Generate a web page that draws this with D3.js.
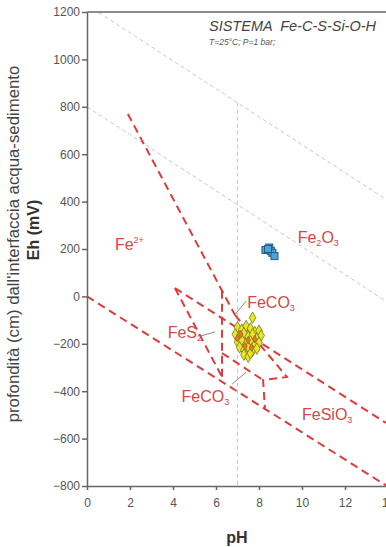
<!DOCTYPE html>
<meta charset="utf-8" />
<style>
  body { margin: 0; background: #fff; }
  text { font-family: Arial, "Liberation Sans", sans-serif; }
  .axis path, .axis line { stroke: #666; stroke-width: 1.5px; }
  .axis text { fill: #555; font-size: 12px; }
  .water { fill: none; stroke: #c9c9c9; stroke-width: 1px; stroke-dasharray: 4 3; }
  .bound { fill: none; stroke: #dc3c3c; stroke-width: 2px; stroke-dasharray: 8 5; }
  .leader { stroke: #8a8a8a; stroke-width: 1px; }
  .field { fill: #d24848; font-size: 16px; }
</style>
<body>
  <script src="https://d3js.org/d3.v7.min.js"></script>
  <script>
    // tick labels
    var xTicks = [0, 2, 4, 6, 8, 10, 12, 14];
    var yTicks = [-800, -600, -400, -200, 0, 200, 400, 600, 800, 1000, 1200];

    // grey water stability lines [pH, Eh]
    var waterUpper = [[0, 1230], [14, 404]];
    var waterLower = [[0, 800], [14, -26]];
    var neutral = [[7, 817], [7, -800]];

    // red dashed phase boundaries [pH, Eh]
    var fe2Fe2o3 = [[1.9, 770], [6.88, -78]];
    var h2Line = [[0, 0], [13.95, -800]];
    var upperParallel = [[4.09, 35], [13.9, -534]];
    var pyriteLeft = [[4.09, 35], [6.28, -340]];
    var vertical = [[6.28, 24], [6.28, -340]];
    var lowerParallel = [[6.28, -239], [8.19, -353]];
    var sideriteEdge = [[6.88, -78], [9.3, -340], [8.19, -353], [8.28, -479]];

    // measured samples [pH, Eh]
    var blueSamples = [[8.3, 196], [8.48, 206], [8.55, 192], [8.62, 184], [8.72, 170], [8.42, 200]];
    var yellowSamples = [
      [7.7, -90], [7.0, -130], [7.2, -140], [7.4, -125], [7.6, -135], [7.8, -150], [8.0, -145],
      [6.9, -160], [7.1, -168], [7.3, -155], [7.5, -170], [7.7, -160], [7.9, -178], [8.1, -165],
      [7.0, -192], [7.2, -185], [7.4, -200], [7.6, -190], [7.8, -205], [8.0, -195],
      [7.1, -215], [7.3, -226], [7.5, -214], [7.7, -230], [7.9, -220],
      [7.3, -246], [7.5, -255], [7.6, -240]
    ];
    var orangeSamples = [[7.15, -160], [7.5, -185], [7.8, -180], [7.35, -210], [7.0, -176], [7.65, -215]];

    var width = 386, height = 547;

    var svg = d3.select('body').append('svg')
      .attr('width', width)
      .attr('height', height);

    var x = d3.scaleLinear().domain([0, 14]).range([87, 388]);
    var y = d3.scaleLinear().domain([-800, 1200]).range([486, 12]);

    var line = d3.line()
      .x(function(d) { return x(d[0]); })
      .y(function(d) { return y(d[1]); });

    // clip to the plot area
    svg.append('clipPath').attr('id', 'plot')
      .append('rect')
      .attr('x', x(0)).attr('y', y(1200))
      .attr('width', x(14) - x(0)).attr('height', y(-800) - y(1200));

    var plot = svg.append('g').attr('clip-path', 'url(#plot)');

    [waterUpper, waterLower, neutral].forEach(function(d) {
      plot.append('path').datum(d).attr('class', 'water').attr('d', line);
    });

    [fe2Fe2o3, h2Line, upperParallel, pyriteLeft, vertical, lowerParallel, sideriteEdge].forEach(function(d) {
      plot.append('path').datum(d).attr('class', 'bound').attr('d', line);
    });

    // leader lines for labels
    var leaders = [
      [[6.9, -75], [7.4, -20]],
      [[5.25, -168], [5.95, -150]],
      [[6.75, -370], [7.4, -320]]
    ];
    leaders.forEach(function(d) {
      plot.append('path').datum(d).attr('class', 'leader').attr('d', line);
    });

    // axes
    svg.append('g')
      .attr('class', 'axis')
      .attr('transform', 'translate(0,' + y(-800) + ')')
      .call(d3.axisBottom(x).tickValues(xTicks).tickSize(4).tickSizeOuter(0).tickPadding(8).tickFormat(d3.format('d')));

    svg.append('g')
      .attr('class', 'axis')
      .attr('transform', 'translate(' + x(0) + ',0)')
      .call(d3.axisLeft(y).tickValues(yTicks).tickSize(5).tickSizeOuter(0).tickPadding(2).tickFormat(d3.format('d')));

    // top frame line
    svg.append('line')
      .attr('x1', x(0)).attr('x2', x(14))
      .attr('y1', y(1200)).attr('y2', y(1200))
      .attr('stroke', '#666').attr('stroke-width', 1.5);

    // sample symbols
    plot.selectAll('.blue').data(blueSamples).enter().append('rect')
      .attr('x', function(d) { return x(d[0]) - 3.5; })
      .attr('y', function(d) { return y(d[1]) - 3.5; })
      .attr('width', 7).attr('height', 7)
      .attr('fill', '#4aa6d6').attr('stroke', '#245a86').attr('stroke-width', 1);

    var diamond = d3.symbol().type(d3.symbolDiamond).size(38);
    plot.selectAll('.yellow').data(yellowSamples).enter().append('path')
      .attr('d', diamond)
      .attr('transform', function(d) { return 'translate(' + x(d[0]) + ',' + y(d[1]) + ')'; })
      .attr('fill', '#ece42a').attr('stroke', '#6f7a1a').attr('stroke-width', 0.8);

    plot.selectAll('.orange').data(orangeSamples).enter().append('path')
      .attr('d', d3.symbol().type(d3.symbolDiamond).size(18))
      .attr('transform', function(d) { return 'translate(' + x(d[0]) + ',' + y(d[1]) + ')'; })
      .attr('fill', '#e07a2c').attr('stroke', '#8a5a18').attr('stroke-width', 0.6);

    // field labels built from text parts with sub/superscripts
    function fieldLabel(px, py, parts) {
      var t = svg.append('text').attr('class', 'field').attr('x', x(px)).attr('y', y(py));
      parts.forEach(function(p) {
        var s = t.append('tspan').text(p.t);
        if (p.sub) s.attr('font-size', 9).attr('dy', 3);
        if (p.sup) s.attr('font-size', 9).attr('dy', -7);
        if (p.back) s.attr('dy', p.back);
      });
    }
    fieldLabel(1.3, 195, [{ t: 'Fe' }, { t: '2+', sup: true }]);
    fieldLabel(9.8, 225, [{ t: 'Fe' }, { t: '2', sub: true }, { t: 'O', back: -3 }, { t: '3', sub: true }]);
    fieldLabel(7.45, -50, [{ t: 'FeCO' }, { t: '3', sub: true }]);
    fieldLabel(3.75, -175, [{ t: 'FeS' }, { t: '2', sub: true }]);
    fieldLabel(4.4, -445, [{ t: 'FeCO' }, { t: '3', sub: true }]);
    fieldLabel(10, -522, [{ t: 'FeSiO' }, { t: '3', sub: true }]);

    // title
    svg.append('text').attr('x', 209).attr('y', 31)
      .attr('font-size', 14.5).attr('font-style', 'italic').attr('fill', '#444')
      .attr('xml:space', 'preserve')
      .text('SISTEMA  Fe-C-S-Si-O-H');
    svg.append('text').attr('x', 209).attr('y', 45)
      .attr('font-size', 8.5).attr('font-style', 'italic').attr('fill', '#555')
      .text('T=25°C; P=1 bar;');

    // axis titles
    svg.append('text')
      .attr('transform', 'translate(' + 237 + ',543)')
      .attr('text-anchor', 'middle').attr('font-size', 16).attr('font-weight', 'bold').attr('fill', '#333')
      .text('pH');
    svg.append('text')
      .attr('transform', 'translate(39,230) rotate(-90)')
      .attr('text-anchor', 'middle').attr('font-size', 16).attr('font-weight', 'bold').attr('fill', '#333')
      .text('Eh (mV)');
    svg.append('text')
      .attr('transform', 'translate(19,244) rotate(-90)')
      .attr('text-anchor', 'middle').attr('font-size', 16.8).attr('fill', '#444')
      .text("profondità (cm) dall'interfaccia acqua-sedimento");
  </script>
</body>
